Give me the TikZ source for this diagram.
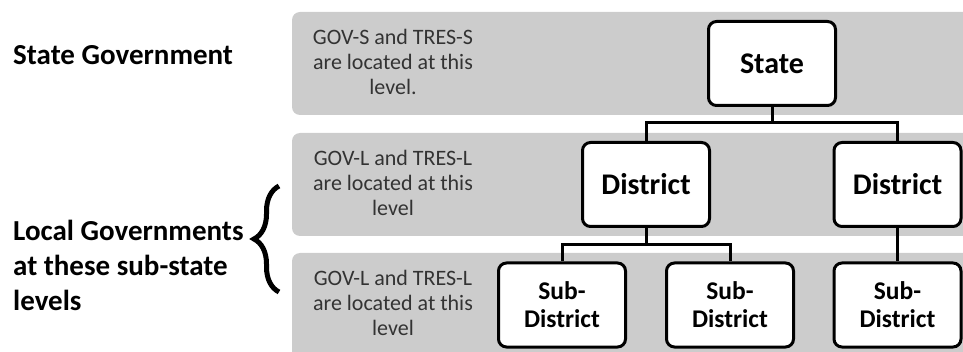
\documentclass[tikz,border=0pt]{standalone}
\usepackage{fontspec}
\setmainfont{Carlito}
\usetikzlibrary{calc,decorations.pathreplacing}

\begin{document}
\begin{tikzpicture}[x=1pt, y=-1pt,
    band/.style={fill=black!20, rounded corners=8pt},
    bandtext/.style={align=center, text=black!80, font=\fontsize{22}{25}\selectfont},
    unit/.style={draw, line width=3pt, rounded corners=8pt, fill=white, minimum width=127pt, minimum height=84pt, align=center, font=\bfseries\fontsize{30}{34}\selectfont},
    subunit/.style={unit, font=\bfseries\fontsize{25.5}{28}\selectfont},
    level/.style={anchor=west, inner sep=0pt, align=left, font=\bfseries\fontsize{29}{35}\selectfont},
    link/.style={line width=3pt}]
    \useasboundingbox (0,0) rectangle (963,352);
    \clip (0,0) rectangle (963,352);
    % grey bands, one per level
    \fill[band] (292,12) rectangle (1000,115);
    \fill[band] (292,133) rectangle (1000,236);
    \fill[band] (292,253) rectangle (1000,390);
    \node[bandtext] (t1) at (393,62) {GOV-S and TRES-S\\are located at this\\level.};
    \node[bandtext] (t2) at (393,183) {GOV-L and TRES-L\\are located at this\\level};
    \node[bandtext] (t3) at (393,303) {GOV-L and TRES-L\\are located at this\\level};
    \node[level] (sg) at (13,55) {State Government};
    \node[level] (lg) at (13,265) {Local Governments\\at these sub-state\\levels};
    \draw[line width=5pt, decorate, decoration={brace, amplitude=25pt}] (279,292) -- (279,186);
    % the tree
    \node[unit] (state) at (772,63.5) {State};
    \node[unit] (dl) at (646,184.5) {District};
    \node[unit] (dr) at (897.5,184.5) {District};
    \node[subunit] (s1) at (562,305) {Sub-\\District};
    \node[subunit] (s2) at (730,305) {Sub-\\District};
    \node[subunit] (s3) at (897.5,305) {Sub-\\District};
    \coordinate (j1) at ([yshift=-16pt]state.south);
    \coordinate (j2) at ([yshift=-17pt]dl.south);
    \draw[link] (state.south) -- (j1);
    \draw[link] (dl.north) |- (j1) -| (dr.north);
    \draw[link] (dl.south) -- (j2);
    \draw[link] (s1.north) |- (j2) -| (s2.north);
    \draw[link] (dr) -- (s3);
\end{tikzpicture}
\end{document}
